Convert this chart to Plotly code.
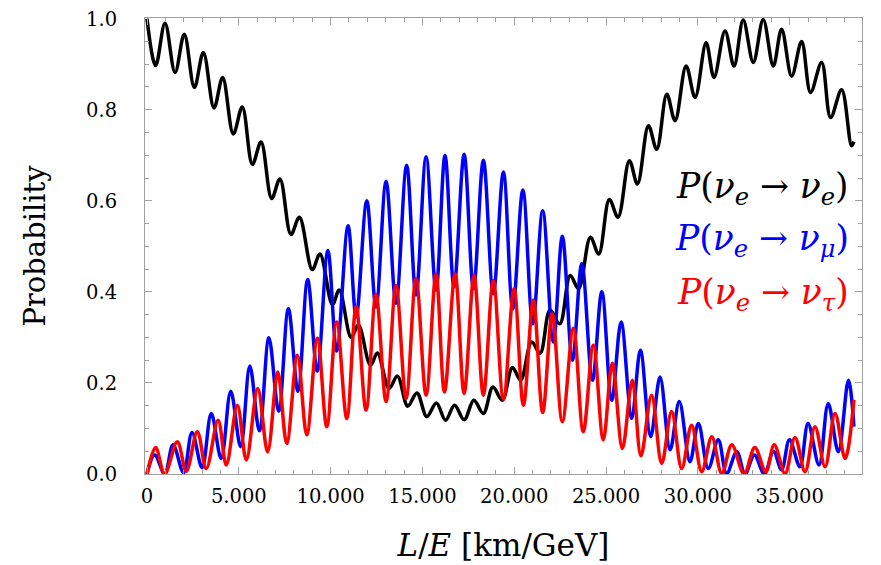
import plotly.graph_objects as go

# L/E [km/GeV] and probability values (extrema of each curve)
black_x = [0, 470, 980, 1530, 2030, 2580, 3070, 3650, 4120, 4700, 5190, 5740, 6210, 6790, 7240, 7840, 8300, 9000, 9420, 10100,
           10470, 11120, 11510, 12170, 12550, 13180, 13640, 14200, 14700, 15240, 15760, 16260, 16750, 17270, 17800, 18320, 18840, 19350, 19900, 20350,
           20950, 21410, 21950, 22480, 23050, 23500, 24150, 24600, 25180, 25650, 26270, 26710, 27310, 27760, 28310, 28760, 29360, 29850, 30450, 30880,
           31480, 31970, 32470, 33020, 33560, 34110, 34560, 35110, 35650, 36140, 36740, 37230, 37830, 38370, 38500]
black_y = [1.0, 0.897, 0.99, 0.882, 0.966, 0.849, 0.926, 0.804, 0.871, 0.747, 0.806, 0.68, 0.729, 0.605, 0.648, 0.526, 0.564, 0.449, 0.483, 0.372,
           0.404, 0.30, 0.327, 0.239, 0.266, 0.188, 0.215, 0.149, 0.178, 0.126, 0.156, 0.118, 0.151, 0.119, 0.162, 0.133, 0.191, 0.162, 0.234, 0.206,
           0.29, 0.265, 0.36, 0.33, 0.436, 0.407, 0.52, 0.483, 0.603, 0.564, 0.688, 0.637, 0.765, 0.713, 0.834, 0.776, 0.896, 0.827, 0.947, 0.871,
           0.973, 0.896, 0.997, 0.904, 0.998, 0.896, 0.977, 0.874, 0.95, 0.838, 0.904, 0.783, 0.844, 0.721, 0.73]

blue_x = [0, 420, 960, 1420, 1990, 2450, 3000, 3500, 4040, 4560, 5100, 5600, 6120, 6640, 7170, 7700, 8220, 8750, 9270, 9850,
          10330, 10950, 11390, 11970, 12470, 13020, 13560, 14140, 14650, 15200, 15740, 16230, 16720, 17270, 17780, 18320, 18860, 19410, 19920, 20470,
          21010, 21550, 22130, 22620, 23170, 23680, 24260, 24770, 25310, 25820, 26400, 26870, 27430, 27940, 28490, 28990, 29570, 30030, 30570, 31110,
          31570, 32120, 32570, 33080, 33620, 34120, 34560, 34990, 35560, 36000, 36600, 37100, 37650, 38200, 38500]
blue_y = [0, 0.042, 0.0, 0.064, 0.003, 0.091, 0.014, 0.133, 0.034, 0.182, 0.06, 0.237, 0.095, 0.299, 0.138, 0.363, 0.182, 0.427, 0.226, 0.491,
          0.27, 0.545, 0.345, 0.6, 0.367, 0.643, 0.375, 0.678, 0.393, 0.697, 0.404, 0.70, 0.411, 0.702, 0.407, 0.689, 0.396, 0.663, 0.363, 0.624,
          0.33, 0.578, 0.29, 0.522, 0.25, 0.462, 0.206, 0.40, 0.162, 0.334, 0.122, 0.272, 0.082, 0.213, 0.053, 0.159, 0.027, 0.111, 0.012, 0.075,
          0.001, 0.049, 0.0, 0.042, 0.0, 0.05, 0.009, 0.075, 0.016, 0.111, 0.02, 0.155, 0.049, 0.206, 0.104]

red_x = [0, 470, 960, 1650, 2140, 2740, 3230, 3870, 4320, 4920, 5410, 6030, 6570, 7120, 7610, 8190, 8700, 9280, 9790, 10330,
         10880, 11390, 11930, 12470, 13020, 13560, 14110, 14650, 15200, 15740, 16200, 16780, 17270, 17810, 18320, 18860, 19410, 19990, 20500, 21040,
         21550, 22070, 22620, 23220, 23760, 24310, 24850, 25340, 25890, 26430, 26900, 27480, 28030, 28570, 29120, 29660, 30210, 30760, 31300, 31850,
         32520, 33100, 33700, 34160, 34750, 35290, 35840, 36380, 36930, 37470, 38020, 38500]
red_y = [0, 0.058, 0.0, 0.071, 0.006, 0.093, 0.012, 0.118, 0.02, 0.151, 0.031, 0.188, 0.049, 0.224, 0.067, 0.261, 0.086, 0.298, 0.104, 0.334,
         0.122, 0.368, 0.14, 0.395, 0.159, 0.414, 0.166, 0.429, 0.173, 0.439, 0.18, 0.44, 0.177, 0.436, 0.173, 0.425, 0.164, 0.407, 0.151, 0.382,
         0.135, 0.352, 0.115, 0.32, 0.093, 0.283, 0.075, 0.243, 0.056, 0.206, 0.04, 0.173, 0.023, 0.137, 0.012, 0.107, 0.005, 0.082, 0.001, 0.064,
         0.0, 0.058, 0.005, 0.064, 0.001, 0.08, 0.005, 0.104, 0.016, 0.133, 0.034, 0.163]

x_tick_vals = [0, 5000, 10000, 15000, 20000, 25000, 30000, 35000]
x_tick_text = ["0", "5.000", "10.000", "15.000", "20.000", "25.000", "30.000", "35.000"]
y_tick_vals = [0, 0.2, 0.4, 0.6, 0.8, 1.0]
y_tick_text = ["0.0", "0.2", "0.4", "0.6", "0.8", "1.0"]

legend_labels = [
    "<i>P</i>(<i>ν<sub>e</sub></i>\u00a0→\u00a0<i>ν<sub>e</sub></i>)",
    "<i>P</i>(<i>ν<sub>e</sub></i>\u00a0→\u00a0<i>ν<sub>μ</sub></i>)",
    "<i>P</i>(<i>ν<sub>e</sub></i>\u00a0→\u00a0<i>ν<sub>τ</sub></i>)",
]
colors = ["#000000", "#0000ff", "#ff0000"]

FONT = "DejaVu Serif"
fig = go.Figure()
for xs, ys, c in [(black_x, black_y, colors[0]), (blue_x, blue_y, colors[1]), (red_x, red_y, colors[2])]:
    fig.add_trace(go.Scatter(x=xs, y=ys, mode="lines",
                             line=dict(color=c, width=3.5, shape="spline", smoothing=1.0),
                             showlegend=False, hoverinfo="skip"))

ypos = [0.627, 0.513, 0.393]
for lab, c, yp in zip(legend_labels, colors, ypos):
    fig.add_annotation(x=0.985, y=yp, xref="paper", yref="paper", xanchor="right", yanchor="middle",
                       text=lab, showarrow=False, font=dict(family=FONT, size=34.5, color=c))

axis_common = dict(showline=True, linecolor="#a0a0a0", linewidth=1, mirror="allticks",
                   ticks="inside", tickcolor="#a0a0a0", showgrid=False, zeroline=False, automargin=False,
                   ticklabeloverflow="allow",
                   tickfont=dict(family=FONT, size=19.5, color="#000000"))

fig.update_xaxes(range=[-109, 38940], tickvals=x_tick_vals, ticktext=x_tick_text, ticklen=7,
                 minor=dict(dtick=1000, ticks="inside", ticklen=4, tickcolor="#a0a0a0", showgrid=False),
                 ticklabelstandoff=5,
                 title=dict(text="<i>L</i>/<i>E</i> [km/GeV]", font=dict(family=FONT, size=31, color="#000000"), standoff=26),
                 **axis_common)
fig.update_yaxes(range=[0, 1.0015], tickvals=y_tick_vals, ticktext=y_tick_text, ticklen=7,
                 minor=dict(dtick=0.05, ticks="inside", ticklen=4, tickcolor="#a0a0a0", showgrid=False),
                 ticklabelstandoff=23,
                 title=dict(text="Probability", font=dict(family=FONT, size=29, color="#000000"), standoff=31),
                 **axis_common)

# the page adds an 8 px body margin, so the figure is sized 8 px smaller than the window
fig.update_layout(width=873, height=557, margin=dict(l=137, r=19, t=10, b=91),
                  plot_bgcolor="white", paper_bgcolor="white")
fig.write_html("out.html")
